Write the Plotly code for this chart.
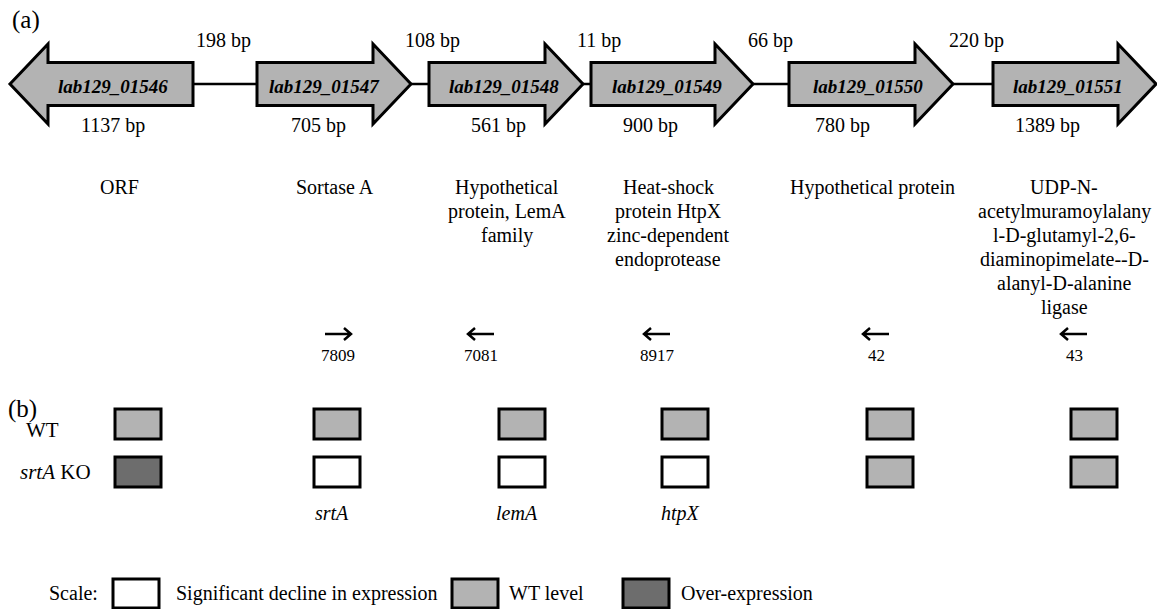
import plotly.graph_objects as go

# ---------------- data ----------------
gene_ids = ["lab129_01546", "lab129_01547", "lab129_01548",
            "lab129_01549", "lab129_01550", "lab129_01551"]
gene_lengths_bp = [1137, 705, 561, 900, 780, 1389]
strands = [-1, 1, 1, 1, 1, 1]
spacer_bp = [198, 108, 11, 66, 220]
descriptions = [
    ["ORF"],
    ["Sortase A"],
    ["Hypothetical", "protein, LemA", "family"],
    ["Heat-shock", "protein HtpX", "zinc-dependent", "endoprotease"],
    ["Hypothetical protein"],
    ["UDP-N-", "acetylmuramoylalany", "l-D-glutamyl-2,6-",
     "diaminopimelate--D-", "alanyl-D-alanine", "ligase"],
]
primer_ids = ["", "7809", "7081", "8917", "42", "43"]
primer_dirs = [0, 1, -1, -1, -1, -1]
expr_wt = ["wt", "wt", "wt", "wt", "wt", "wt"]
expr_ko = ["over", "decline", "decline", "decline", "wt", "wt"]
ko_gene_labels = ["", "srtA", "lemA", "htpX", "", ""]
row_labels = ["WT", "<i>srtA</i> KO"]
legend_levels = ["decline", "wt", "over"]
legend_texts = ["Significant decline in expression", "WT level", "Over-expression"]

# ---------------- layout (pixel-like canvas units) ----------------
W, H = 1157, 609
gene_left = [10, 257, 429, 591, 789, 993]
gene_right = [193, 411, 583, 753, 953, 1156]
head_len = 38
gene_cy = 84
body_half = 21.5
head_half = 40
name_x = [113, 324, 504, 667, 868, 1068]
len_x = [113, 318, 498, 650, 842, 1047]
spacer_x = [223, 432, 599, 770, 976]
desc_x = [119, 335, 507, 668, 872, 1064]
primer_x = [0, 338, 481, 657, 876, 1074]
box_x = [138, 337, 522, 685, 890, 1094]
box_w, box_h = 46, 30
row_y = [424, 472]
legend_box_x = [136, 475, 646]
legend_text_x = [174, 507, 679]
legend_y = 593

fill = {"decline": "#ffffff", "wt": "#b3b3b3", "over": "#6d6d6d"}
FONT = "Liberation Serif, Times New Roman, serif"

fig = go.Figure()
shapes = []
annotations = []


def txt(x, y, s, size=20, xanchor="center", **kw):
    annotations.append(dict(x=x, y=y, text=s, showarrow=False, xref="x", yref="y",
                            xanchor=xanchor, yanchor="middle",
                            font=dict(family=FONT, size=size, color="black"), **kw))


# connector line (behind arrows)
shapes.append(dict(type="line", x0=gene_right[0], x1=gene_left[-1], y0=gene_cy, y1=gene_cy,
                   xref="x", yref="y", line=dict(color="black", width=2.5)))

# gene arrows
for x0, x1, s in zip(gene_left, gene_right, strands):
    t, b = gene_cy - body_half, gene_cy + body_half
    ht, hb = gene_cy - head_half, gene_cy + head_half
    if s > 0:
        hx = x1 - head_len
        path = (f"M {x0},{t} L {hx},{t} L {hx},{ht} L {x1},{gene_cy} "
                f"L {hx},{hb} L {hx},{b} L {x0},{b} Z")
    else:
        hx = x0 + head_len
        path = (f"M {x1},{t} L {hx},{t} L {hx},{ht} L {x0},{gene_cy} "
                f"L {hx},{hb} L {hx},{b} L {x1},{b} Z")
    shapes.append(dict(type="path", path=path, xref="x", yref="y",
                       fillcolor=fill["wt"], line=dict(color="black", width=3)))

# gene labels
for x, g in zip(name_x, gene_ids):
    txt(x, gene_cy + 2, f"<b><i>{g}</i></b>", size=19)
for x, L in zip(len_x, gene_lengths_bp):
    txt(x, 125, f"{L} bp")
for x, sp in zip(spacer_x, spacer_bp):
    txt(x, 40, f"{sp} bp")
txt(26, 20, "(a)", size=25)

# descriptions
for x, lines in zip(desc_x, descriptions):
    for i, line in enumerate(lines):
        txt(x, 187 + 24 * i, line)

# primers
for x, pid, d in zip(primer_x, primer_ids, primer_dirs):
    if d == 0:
        continue
    y = 334
    a, b = x - 13 * d, x + 13 * d
    path = (f"M {a},{y} L {b},{y} M {b - 7 * d},{y - 6} L {b},{y} L {b - 7 * d},{y + 6}")
    shapes.append(dict(type="path", path=path, xref="x", yref="y",
                       line=dict(color="black", width=2.5)))
    txt(x, 355, pid, size=17)

# panel (b)
txt(22, 409, "(b)", size=25)
txt(42, 430, row_labels[0], size=21)
txt(55, 472, row_labels[1], size=21)
for levels, cy in zip([expr_wt, expr_ko], row_y):
    for x, lv in zip(box_x, levels):
        shapes.append(dict(type="rect", x0=x - box_w / 2, x1=x + box_w / 2,
                           y0=cy - box_h / 2, y1=cy + box_h / 2, xref="x", yref="y",
                           fillcolor=fill[lv], line=dict(color="black", width=3)))
for x, lab in zip(box_x, ko_gene_labels):
    if lab:
        txt(x - 5, 513, f"<i>{lab}</i>")

# scale legend
txt(73, legend_y, "Scale:")
for bx, tx, lv, t in zip(legend_box_x, legend_text_x, legend_levels, legend_texts):
    shapes.append(dict(type="rect", x0=bx - box_w / 2, x1=bx + box_w / 2,
                       y0=legend_y - 14, y1=legend_y + 15, xref="x", yref="y",
                       fillcolor=fill[lv], line=dict(color="black", width=3)))
    txt(tx, legend_y, t, xanchor="left")

fig.update_layout(
    width=W, height=H, margin=dict(l=0, r=0, t=0, b=0),
    paper_bgcolor="white", plot_bgcolor="white",
    xaxis=dict(range=[0, W], visible=False, fixedrange=True),
    yaxis=dict(range=[H, 0], visible=False, fixedrange=True),
    shapes=shapes, annotations=annotations, showlegend=False,
)
fig.write_html("out.html", config={"displayModeBar": False},
               post_script="document.body.style.margin='0';document.body.style.overflow='hidden';")
